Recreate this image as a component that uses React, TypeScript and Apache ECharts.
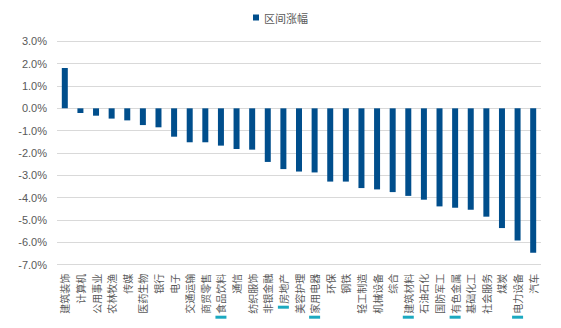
import React, { useEffect, useRef } from "react";
import * as echarts from "echarts";

const categories = [
  "建筑装饰", "计算机", "公用事业", "农林牧渔", "传媒", "医药生物", "银行", "电子",
  "交通运输", "商贸零售", "食品饮料", "通信", "纺织服饰", "非银金融", "房地产", "美容护理",
  "家用电器", "环保", "钢铁", "轻工制造", "机械设备", "综合", "建筑材料", "石油石化",
  "国防军工", "有色金属", "基础化工", "社会服务", "煤炭", "电力设备", "汽车",
];

const values = [
  1.8, -0.21, -0.33, -0.46, -0.54, -0.75, -0.85, -1.27,
  -1.52, -1.52, -1.67, -1.82, -1.85, -2.4, -2.72, -2.83,
  -2.87, -3.28, -3.28, -3.57, -3.63, -3.75, -3.92, -4.09,
  -4.39, -4.45, -4.54, -4.85, -5.36, -5.92, -6.47,
];

const highlighted = ["食品饮料", "房地产", "家用电器", "建筑材料", "有色金属", "电力设备"];

const seriesName = "区间涨幅";

export default function App() {
  const ref = useRef<HTMLDivElement>(null);
  useEffect(() => {
    if (!ref.current) return;
    const chart = echarts.init(ref.current, null, { renderer: "svg" });
    chart.setOption({
      animation: false,
      backgroundColor: "#ffffff",
      legend: {
        data: [seriesName],
        top: 7,
        left: "center",
        itemWidth: 6,
        itemHeight: 6,
        itemGap: 4,
        icon: "rect",
        textStyle: { color: "#595959", fontSize: 11, fontFamily: "Noto Sans CJK SC" },
      },
      grid: { left: 57, right: 20, top: 41.3, bottom: 63.3, containLabel: false },
      xAxis: {
        type: "category",
        data: categories,
        axisLine: { show: false },
        axisTick: { show: false },
        axisLabel: {
          interval: 0,
          rotate: 90,
          margin: 9,
          color: "#595959",
          fontSize: 10,
          fontFamily: "Noto Sans CJK SC",
          formatter: (v: string) =>
            highlighted.includes(v) ? `{m|}{s|}{t|${v}}` : `{t|${v}}`,
          rich: {
            m: { width: 3, height: 11, backgroundColor: "#1BA9C0" },
            s: { width: 2, height: 11 },
            t: { fontSize: 10, color: "#595959", fontFamily: "Noto Sans CJK SC" },
          },
        },
      },
      yAxis: {
        type: "value",
        min: -7,
        max: 3,
        interval: 1,
        axisLine: { show: false },
        axisTick: { show: false },
        axisLabel: {
          margin: 10,
          color: "#595959",
          fontSize: 11,
          fontFamily: "Liberation Sans, Arial",
          formatter: (v: number) => v.toFixed(1) + "%",
        },
        splitLine: { lineStyle: { color: "#D9D9D9", width: 1.2 } },
      },
      series: [
        {
          name: seriesName,
          type: "bar",
          data: values,
          barWidth: 6,
          itemStyle: { color: "#004E8C" },
        },
      ],
    });
    return () => chart.dispose();
  }, []);
  return <div ref={ref} style={{ width: 561, height: 328, position: "absolute", left: 0, top: 0 }} />;
}
